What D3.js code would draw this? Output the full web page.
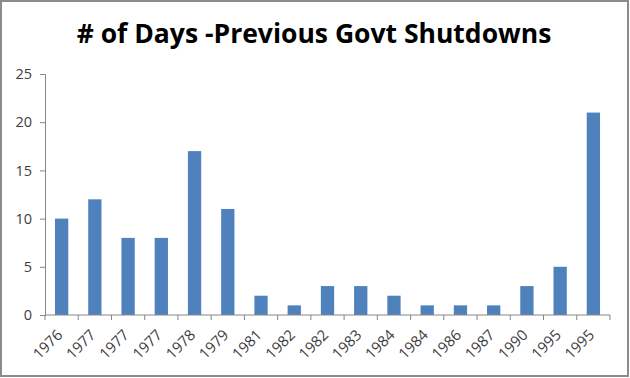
<!DOCTYPE html>
<html>
<head>
<meta charset="utf-8">
<script src="https://cdn.jsdelivr.net/npm/d3@7"></script>
<style>
  html, body { margin: 0; padding: 0; background: #fff; }
  svg { display: block; }
</style>
</head>
<body>
<div id="general"></div>
<script>
const w = 630, h = 378;
const m = { l: 45, r: 20, t: 74, b: 63 };

// data
const years = ["1976", "1977", "1977", "1977", "1978", "1979", "1981", "1982", "1982",
               "1983", "1984", "1984", "1986", "1987", "1990", "1995", "1995"];
const days = [10, 12, 8, 8, 17, 11, 2, 1, 3, 3, 2, 1, 1, 1, 3, 5, 21];
const yTicks = [0, 5, 10, 15, 20, 25];
const title = "# of Days -Previous Govt Shutdowns";

const barColor = "#4f81bd";
const axisColor = "#868686";
const textColor = "#404040";

const svg = d3.select("#general").append("svg").attr("width", w).attr("height", h);

// frame
svg.append("rect").attr("x", 1).attr("y", 1).attr("width", w - 3).attr("height", h - 3)
  .attr("fill", "#fff").attr("stroke", "#8c8c8c").attr("stroke-width", 2);

svg.append("text")
  .attr("x", 314).attr("y", 43)
  .attr("text-anchor", "middle")
  .attr("font-family", "'Open Sans', sans-serif")
  .attr("font-weight", "bold")
  .attr("font-size", 26.5)
  .attr("fill", "#000")
  .text(title);

const x = d3.scaleBand().domain(d3.range(years.length)).range([m.l, w - m.r]).paddingInner(0.6).paddingOuter(0.3);
const y = d3.scaleLinear().domain([0, 25]).range([h - m.b, m.t]);

const g = svg.append("g");

g.selectAll("rect.bar")
  .data(days)
  .join("rect")
    .attr("class", "bar")
    .attr("x", (d, i) => x(i))
    .attr("y", d => y(d))
    .attr("width", x.bandwidth())
    .attr("height", d => y(0) - y(d))
    .attr("fill", barColor);

// y axis
const yAxis = g.append("g").attr("transform", `translate(${m.l},0)`)
  .call(d3.axisLeft(y).tickValues(yTicks).tickSize(5).tickPadding(8));
yAxis.select(".domain").attr("stroke", axisColor);
yAxis.selectAll(".tick line").attr("stroke", axisColor);
yAxis.selectAll("text").attr("font-family", "'Open Sans', sans-serif").attr("font-size", 14.5).attr("fill", textColor);

// x axis with ticks at band boundaries
const x0 = m.l, x1 = w - m.r;
const xAxis = g.append("g");
xAxis.append("line").attr("x1", x0).attr("x2", x1).attr("y1", y(0)).attr("y2", y(0)).attr("stroke", axisColor);
xAxis.selectAll("line.tk")
  .data(d3.range(years.length + 1))
  .join("line")
    .attr("class", "tk")
    .attr("x1", i => x0 + i * (x1 - x0) / years.length)
    .attr("x2", i => x0 + i * (x1 - x0) / years.length)
    .attr("y1", y(0)).attr("y2", y(0) + 5)
    .attr("stroke", axisColor);

xAxis.selectAll("text")
  .data(years)
  .join("text")
    .attr("transform", (d, i) => `translate(${x(i) + x.bandwidth() / 2 - 1},${y(0) + 18}) rotate(-45)`)
    .attr("text-anchor", "end")
    .attr("dominant-baseline", "middle")
    .attr("font-family", "'Open Sans', sans-serif")
    .attr("font-size", 15)
    .attr("fill", textColor)
    .text(d => d);
</script>
</body>
</html>
